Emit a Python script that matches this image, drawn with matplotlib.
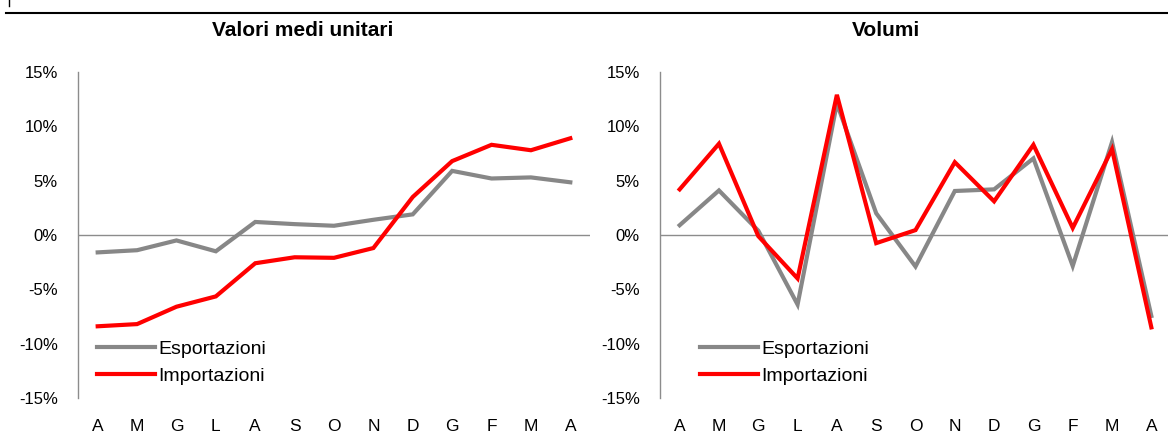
import matplotlib
matplotlib.use("Agg")
import matplotlib.pyplot as plt
from matplotlib.lines import Line2D
from matplotlib.ticker import FuncFormatter

plt.rcParams["font.family"] = ["Liberation Sans", "DejaVu Sans"]

mesi = ["A", "M", "G", "L", "A", "S", "O", "N", "D", "G", "F", "M", "A"]

# Valori medi unitari (var. %)
valori_esp = [-1.6, -1.4, -0.5, -1.5, 1.2, 1.0, 0.85, 1.4, 1.9, 5.9, 5.2, 5.3, 4.85]
valori_imp = [-8.4, -8.2, -6.6, -5.65, -2.6, -2.05, -2.1, -1.2, 3.5, 6.8, 8.3, 7.8, 8.9]

# Volumi (var. %)
volumi_esp = [0.9, 4.1, 0.4, -6.4, 12.1, 2.0, -2.9, 4.05, 4.2, 7.05, -2.85, 8.55, -7.45]
volumi_imp = [4.2, 8.4, -0.1, -4.0, 12.9, -0.75, 0.45, 6.7, 3.1, 8.3, 0.65, 7.9, -8.5]

titoli = ["Valori medi unitari", "Volumi"]
etichette = ["Esportazioni", "Importazioni"]

W, H = 1168, 436
fig = plt.figure(figsize=(W / 100, H / 100), dpi=100)

GRIGIO_ASSE = "#8c8c8c"
GRIGIO = "#878787"
ROSSO = "#ff0000"


def make_axes(x0, x1):
    return fig.add_axes([x0 / W, 1 - 398 / H, (x1 - x0) / W, (398 - 72) / H])


ax1 = make_axes(78, 590)
ax2 = make_axes(660, 1171)

dati = [(valori_esp, valori_imp), (volumi_esp, volumi_imp)]
legend_pos = [(97, 340), (700, 340)]

for ax, (esp, imp), (lx, ly) in zip([ax1, ax2], dati, legend_pos):
    x = range(len(mesi))
    ax.axhline(0, color=GRIGIO_ASSE, lw=1, zorder=1)
    ax.plot(x, esp, color=GRIGIO, lw=3, label=etichette[0], zorder=2,
            solid_joinstyle="miter")
    ax.plot(x, imp, color=ROSSO, lw=3, label=etichette[1], zorder=3,
            solid_joinstyle="miter")
    ax.set_xlim(-0.5, 12.5)
    ax.set_ylim(-15, 15)
    ax.set_yticks(range(-15, 16, 5))
    ax.yaxis.set_major_formatter(FuncFormatter(lambda v, p: "%d%%" % v))
    ax.set_xticks(list(x))
    ax.set_xticklabels(mesi)
    for s in ["top", "right", "bottom"]:
        ax.spines[s].set_visible(False)
    ax.spines["left"].set_color(GRIGIO_ASSE)
    ax.spines["left"].set_linewidth(1)
    ax.tick_params(axis="y", length=0, pad=14.5, labelsize=12)
    ax.tick_params(axis="x", length=0, pad=15, labelsize=12.5)
    ax.patch.set_visible(False)
    ax.legend(loc="upper left", bbox_to_anchor=(lx / W, 1 - ly / H),
              bbox_transform=fig.transFigure, frameon=False, fontsize=14,
              handlelength=3.0, handletextpad=0.15, labelspacing=0.5,
              borderpad=0, borderaxespad=0)

fig.text(303 / W, 1 - 30 / H, titoli[0], ha="center", va="center",
         fontsize=15, fontweight="bold")
fig.text(886 / W, 1 - 30 / H, titoli[1], ha="center", va="center",
         fontsize=15, fontweight="bold")

# linea in alto
fig.add_artist(Line2D([6 / W, 1], [1 - 13 / H, 1 - 13 / H], color="black", lw=1.5))
fig.add_artist(Line2D([9 / W, 9 / W], [1, 1 - 6 / H], color="black", lw=1))

fig.savefig("out.png", dpi=100)
